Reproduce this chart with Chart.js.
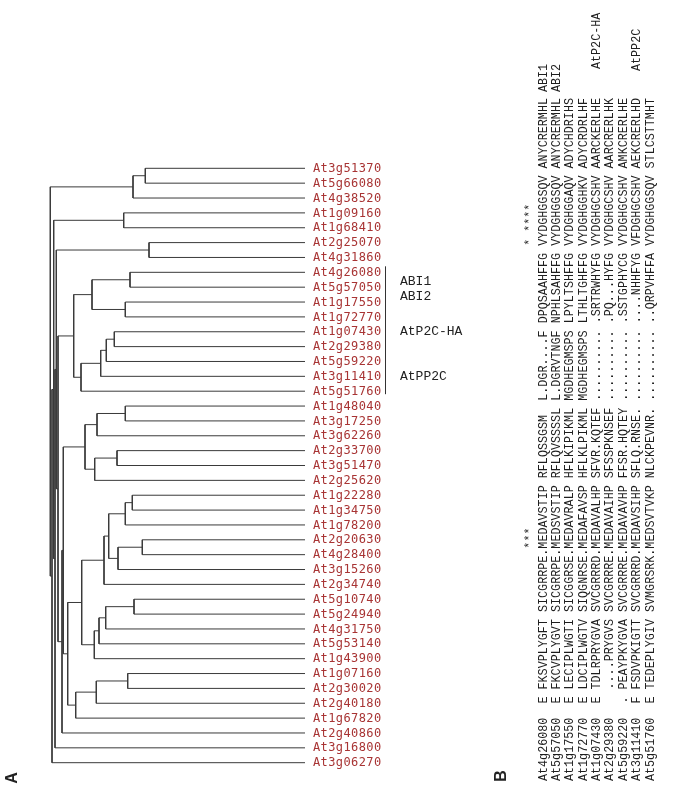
<!DOCTYPE html>
<html>
<head>
<meta charset="utf-8">
<script src="https://cdn.jsdelivr.net/npm/chart.js@4.4.1/dist/chart.umd.min.js"></script>
<style>
  html, body { margin: 0; padding: 0; background: #fff; }
  #wrap { width: 673px; height: 800px; position: relative; }
</style>
</head>
<body>
<div id="wrap"><canvas id="tree"></canvas></div>
<script>
// Part A: leaf order of the dendrogram (top to bottom)
const leafNames = [
  'At3g51370', 'At5g66080', 'At4g38520', 'At1g09160', 'At1g68410', 'At2g25070',
  'At4g31860', 'At4g26080', 'At5g57050', 'At1g17550', 'At1g72770', 'At1g07430',
  'At2g29380', 'At5g59220', 'At3g11410', 'At5g51760', 'At1g48040', 'At3g17250',
  'At3g62260', 'At2g33700', 'At3g51470', 'At2g25620', 'At1g22280', 'At1g34750',
  'At1g78200', 'At2g20630', 'At4g28400', 'At3g15260', 'At2g34740', 'At5g10740',
  'At5g24940', 'At4g31750', 'At5g53140', 'At1g43900', 'At1g07160', 'At2g30020',
  'At2g40180', 'At1g67820', 'At2g40860', 'At3g16800', 'At3g06270'
];

// tip position of every leaf on the distance axis
const leafTip = 305;

// merges: [child A, child B, node position]; numbers are leaves, 'mK' is merge K
const merges = [
  [0, 1, 145.3], ['m0', 2, 133],
  [3, 4, 123.7],
  [5, 6, 149],
  [7, 8, 130], [9, 10, 125.3], ['m4', 'm5', 92],
  [11, 12, 114.3], ['m7', 13, 106.3], ['m8', 14, 100.7], ['m9', 15, 81],
  ['m6', 'm10', 73.7],
  [16, 17, 125.3], ['m12', 18, 97], [19, 20, 117], ['m14', 21, 94.7], ['m13', 'm15', 85],
  [22, 23, 132.3], ['m17', 24, 125.3], [25, 26, 142.3], ['m19', 27, 118],
  ['m18', 'm20', 108.7], ['m21', 28, 104],
  [29, 30, 134], ['m23', 31, 105.7], ['m24', 32, 99], ['m25', 33, 94.3],
  ['m22', 'm26', 81.7],
  [34, 35, 127.7], ['m28', 36, 96.3], ['m29', 37, 75.7],
  ['m27', 'm30', 67.7],
  ['m16', 'm31', 63.3],
  ['m32', 38, 62],
  ['m11', 'm33', 58],
  ['m3', 'm34', 56.3],
  ['m35', 39, 55],
  ['m2', 'm36', 53.7],
  ['m37', 40, 52],
  ['m1', 'm38', 50.3]
];

// labelled clade on the right of the tree
const bracketFrom = 'At4g26080';
const bracketTo = 'At5g51760';
const cladeLabels = ['ABI1', 'ABI2', 'AtP2C-HA', 'AtPP2C'];
const cladeLabelRows = [7.6, 8.6, 11, 14];

// Part B: alignment (each row is drawn rotated, reading bottom to top)
const alnNames = ['At4g26080', 'At5g57050', 'At1g17550', 'At1g72770', 'At1g07430',
  'At2g29380', 'At5g59220', 'At3g11410', 'At5g51760'];
const alnLead = ['E', 'E', 'E', 'E', 'E', ' ', '.', 'F', 'E'];
const alnBlocks = [
  ['FKSVPLYGFT', 'SICGRRPE.MEDAVSTIP', 'RFLQSSGSM ', 'L.DGR....F', 'DPQSAAHFFG', 'VYDGHGGSQV', 'ANYCRERMHL'],
  ['FKCVPLYGVT', 'SICGRRPE.MEDSVSTIP', 'RFLQVSSSSL', 'L.DGRVTNGF', 'NPHLSAHFFG', 'VYDGHGGSQV', 'ANYCRERMHL'],
  ['LECIPLWGTI', 'SICGGRSE.MEDAVRALP', 'HFLKIPIKML', 'MGDHEGMSPS', 'LPYLTSHFFG', 'VYDGHGGAQV', 'ADYCHDRIHS'],
  ['LDCIPLWGTV', 'SIQGNRSE.MEDAFAVSP', 'HFLKLPIKML', 'MGDHEGMSPS', 'LTHLTGHFFG', 'VYDGHGGHKV', 'ADYCRDRLHF'],
  ['TDLRPRYGVA', 'SVCGRRRD.MEDAVALHP', 'SFVR.KQTEF', '..........', '.SRTRWHYFG', 'VYDGHGCSHV', 'AARCKERLHE'],
  ['....PRYGVS', 'SVCGRRRE.MEDAVAIHP', 'SFSSPKNSEF', '..........', '.PQ...HYFG', 'VYDGHGCSHV', 'AARCRERLHK'],
  ['PEAYPKYGVA', 'SVCGRRRE.MEDAVAVHP', 'FFSR.HQTEY', '..........', '.SSTGPHYCG', 'VYDGHGCSHV', 'AMKCRERLHE'],
  ['FSDVPKIGTT', 'SVCGRRRD.MEDAVSIHP', 'SFLQ.RNSE.', '..........', '....NHHFYG', 'VFDGHGCSHV', 'AEKCRERLHD'],
  ['TEDEPLYGIV', 'SVMGRSRK.MEDSVTVKP', 'NLCKPEVNR.', '..........', '..QRPVHFFA', 'VYDGHGGSQV', 'STLCSTTMHT']
];
const alnConsensus = '                                 ***                                        * ****';
const alnTags = ['ABI1', 'ABI2', '', '', 'AtP2C-HA', '', '', 'AtPP2C', ''];

// ---- build the tree line segments from the merges ----
const nodePos = {};
function pos(ref) {
  if (typeof ref === 'number') return { x: leafTip, y: ref };
  return nodePos[ref];
}
const treeSets = [];
merges.forEach(([a, b, h], k) => {
  const pa = pos(a), pb = pos(b);
  nodePos['m' + k] = { x: h, y: (pa.y + pb.y) / 2 };
  treeSets.push({
    data: [{ x: pa.x, y: pa.y }, { x: h, y: pa.y }, { x: h, y: pb.y }, { x: pb.x, y: pb.y }],
    showLine: true,
    borderColor: '#3a3a3a',
    borderWidth: 1,
    pointRadius: 0,
    borderJoinStyle: 'miter',
    tension: 0
  });
});

// leaf rows: first at 168.3px, 14.86px apart
const rowStep = 14.86;
const yMin = -168.3 / rowStep;
const yMax = yMin + 800 / rowStep;

const textPlugin = {
  id: 'texts',
  afterDatasetsDraw(chart) {
    const { ctx, scales: { x, y } } = chart;
    ctx.save();

    // leaf names
    ctx.fillStyle = '#a83434';
    ctx.font = '12px "DejaVu Sans Mono"';
    ctx.letterSpacing = '0.4px';
    ctx.textBaseline = 'middle';
    ctx.textAlign = 'left';
    leafNames.forEach((n, i) => ctx.fillText(n, x.getPixelForValue(leafTip) + 8, y.getPixelForValue(i) + 0.5));
    ctx.letterSpacing = '0px';

    // bracket
    const i0 = leafNames.indexOf(bracketFrom), i1 = leafNames.indexOf(bracketTo);
    ctx.strokeStyle = '#333';
    ctx.lineWidth = 1;
    ctx.beginPath();
    ctx.moveTo(385.5, y.getPixelForValue(i0) - 6);
    ctx.lineTo(385.5, y.getPixelForValue(i1) + 3);
    ctx.stroke();

    ctx.fillStyle = '#222';
    ctx.font = '13px "Liberation Mono"';
    cladeLabels.forEach((t, k) => ctx.fillText(t, 400, y.getPixelForValue(cladeLabelRows[k])));

    // panel letters
    ctx.font = 'bold 16px "Liberation Sans"';
    ctx.textAlign = 'center';
    [['A', 12, 778], ['B', 501, 776]].forEach(([t, px, py]) => {
      ctx.save();
      ctx.translate(px, py);
      ctx.rotate(-Math.PI / 2);
      ctx.fillText(t, 0, 1);
      ctx.restore();
    });

    // alignment, rotated; glyphs a bit taller than their 7.04px advance
    const colX0 = 543.3, colStep = 13.37, baseY = 781;
    ctx.font = '12.5px "Liberation Mono"';
    ctx.textAlign = 'left';
    ctx.fillStyle = '#1e1e1e';
    const squeeze = 7.04 / 7.5;
    const drawUp = (str, cx, by) => {
      ctx.save();
      ctx.translate(cx, by);
      ctx.rotate(-Math.PI / 2);
      ctx.scale(squeeze, 1);
      ctx.fillText(str, 0, 0);
      ctx.restore();
    };
    drawUp(alnConsensus, colX0 - colStep, baseY);
    alnNames.forEach((n, r) => {
      const line = n + '  ' + alnLead[r] + ' ' + alnBlocks[r].join(' ');
      drawUp(line, colX0 + r * colStep, baseY);
    });
    const tagY = [92, 92, 0, 0, 69, 0, 0, 71, 0];
    alnTags.forEach((t, r) => { if (t) drawUp(t, colX0 + r * colStep, tagY[r]); });

    ctx.restore();
  }
};

new Chart(document.getElementById('tree'), {
  type: 'scatter',
  data: { datasets: treeSets },
  options: {
    responsive: true,
    maintainAspectRatio: false,
    animation: false,
    events: [],
    layout: { padding: 0 },
    plugins: { legend: { display: false }, tooltip: { enabled: false } },
    scales: {
      x: { type: 'linear', display: false, min: 0, max: 673 },
      y: { type: 'linear', display: false, min: yMin, max: yMax, reverse: true }
    }
  },
  plugins: [textPlugin]
});
</script>
</body>
</html>
